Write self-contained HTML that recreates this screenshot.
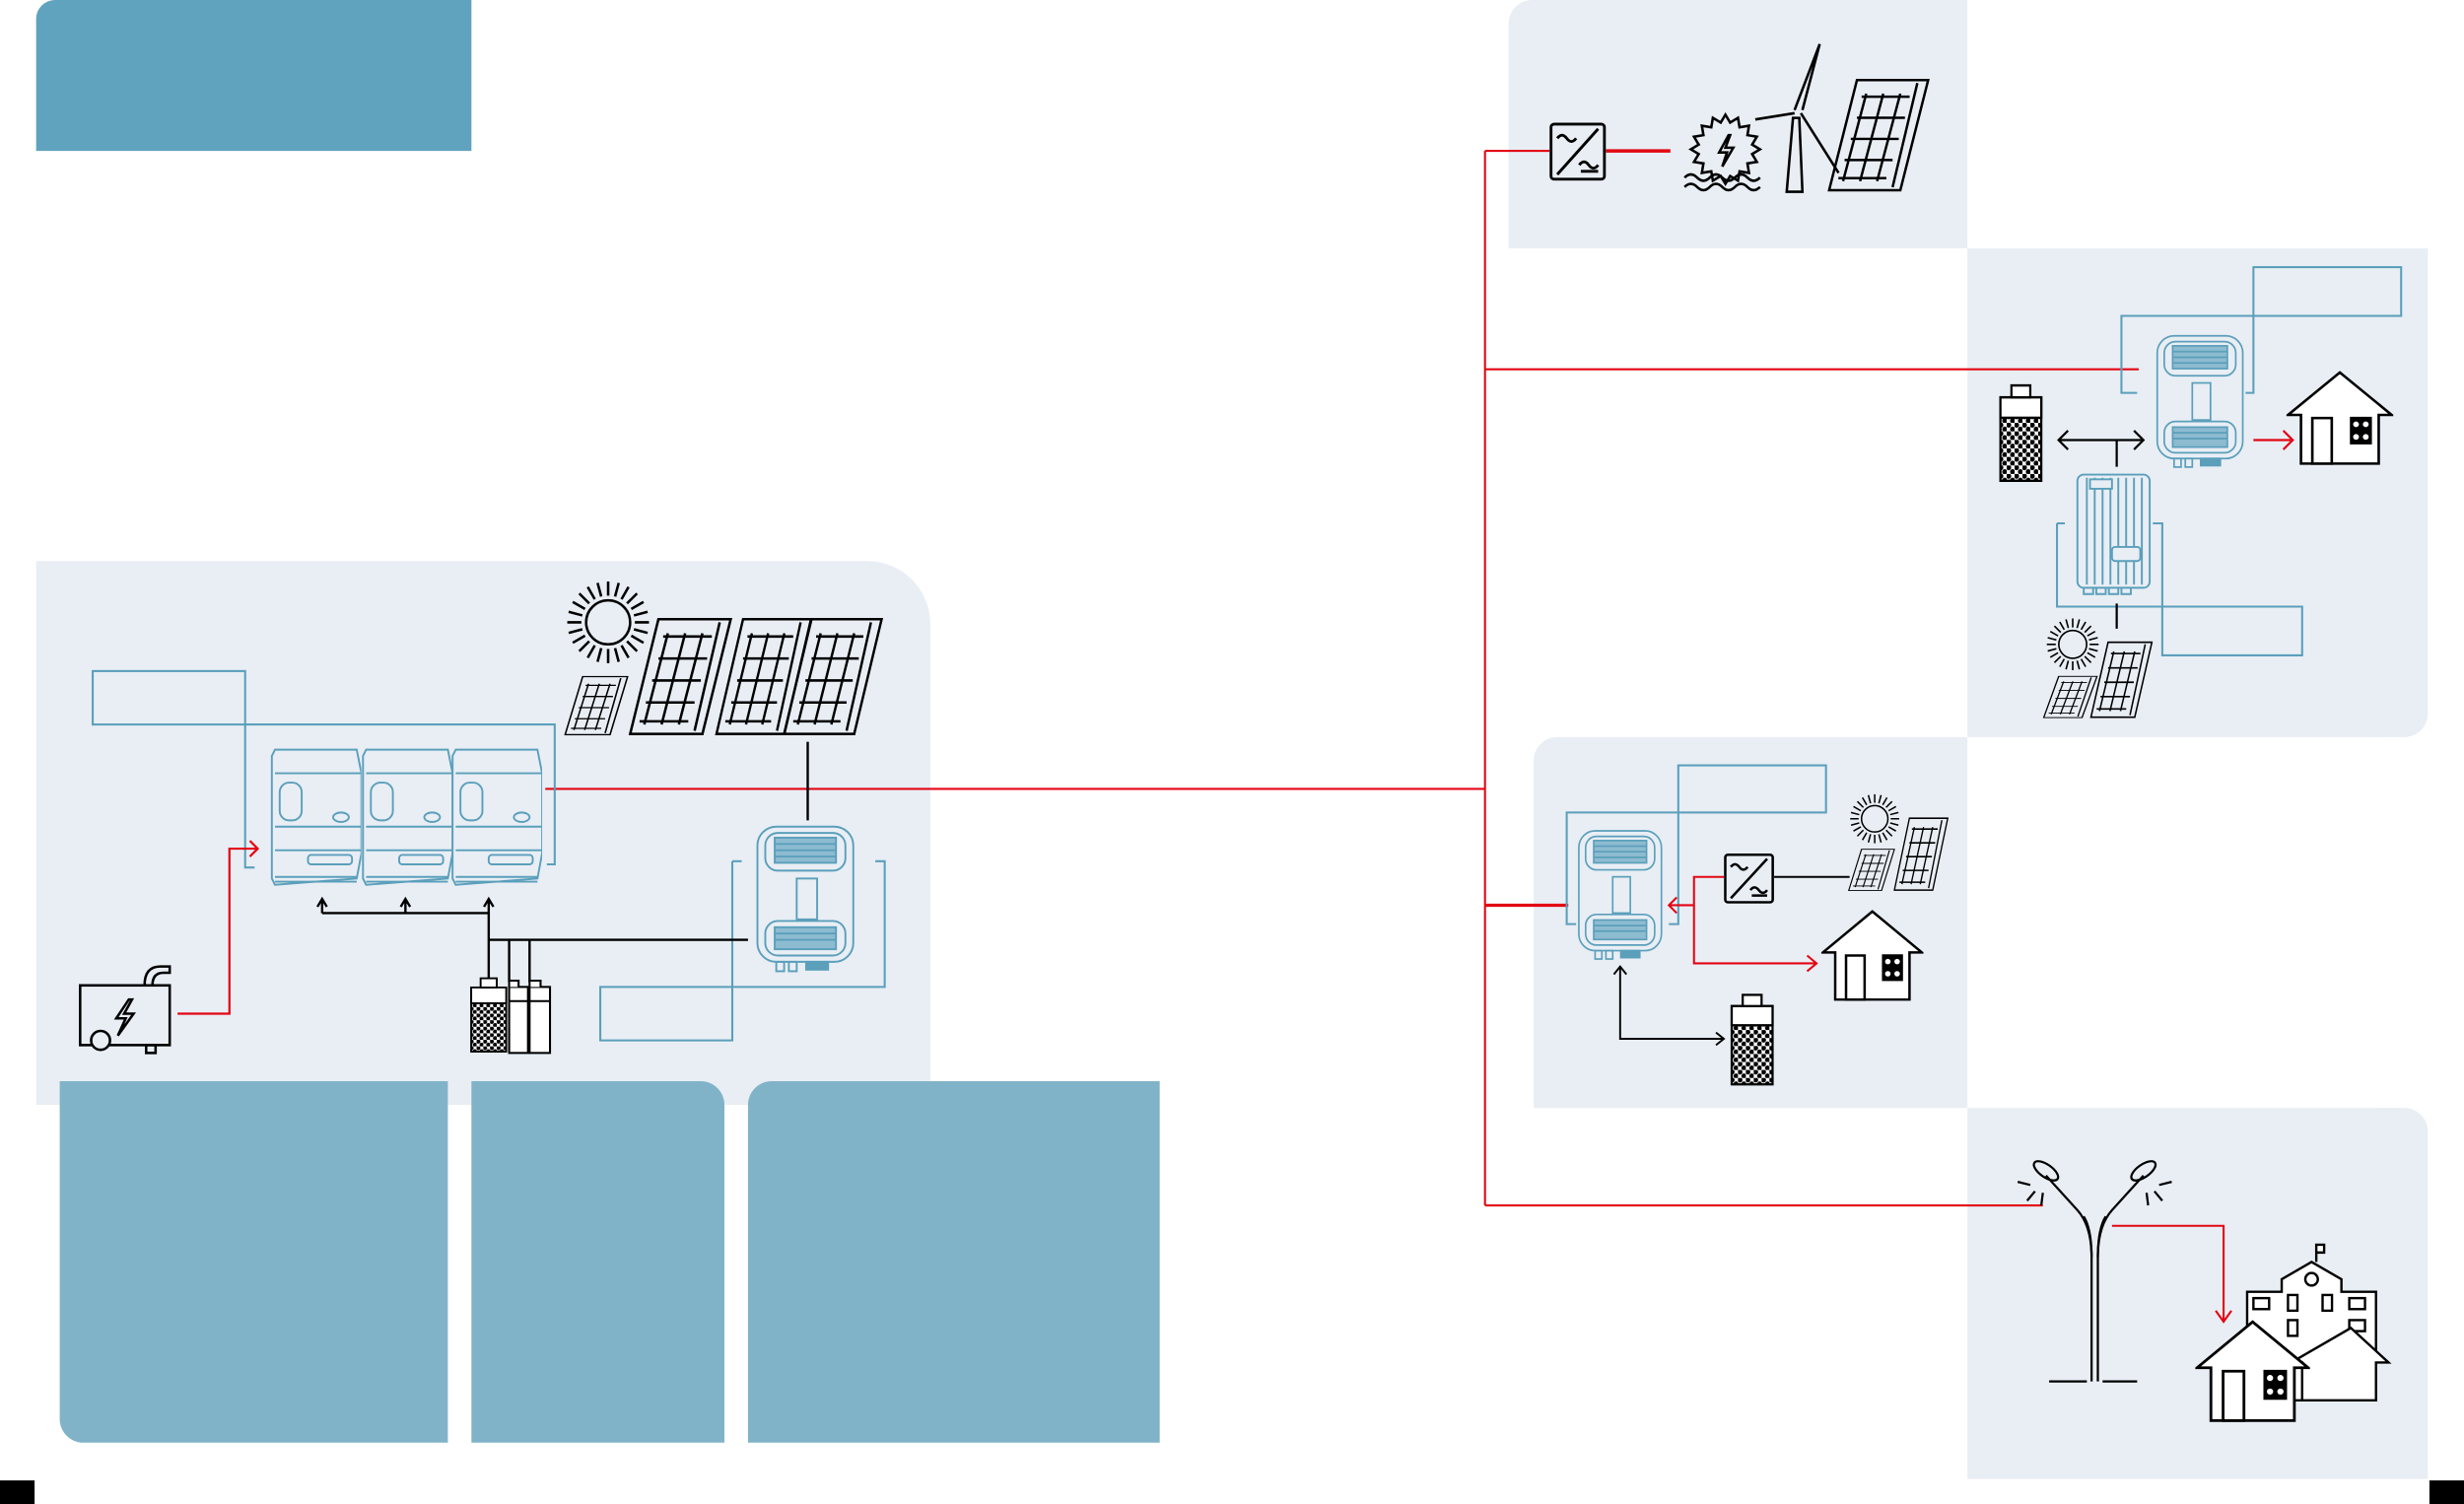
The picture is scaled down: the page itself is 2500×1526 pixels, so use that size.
<!DOCTYPE html>
<html><head><meta charset="utf-8"><style>
html,body{margin:0;padding:0;background:#fff;}
svg{display:block;}
</style></head><body>
<svg width="2500" height="1526" viewBox="0 0 1568 957" preserveAspectRatio="none" xmlns="http://www.w3.org/2000/svg">
<defs>
<pattern id="dots" width="5" height="5" patternUnits="userSpaceOnUse">
<rect width="5" height="5" fill="#fff"/>
<circle cx="1.25" cy="1.25" r="1.6" fill="#000"/><circle cx="3.75" cy="3.75" r="1.6" fill="#000"/>
</pattern>
<symbol id="xt" viewBox="0 0 65 97" preserveAspectRatio="none">
<g fill="none" stroke="#5b9fbb" stroke-width="1.2">
<rect x="2" y="3" width="61" height="86" rx="12"/>
<rect x="7" y="7" width="51" height="24" rx="8"/>
<rect x="13" y="10" width="39" height="16" fill="#8dbbd0"/>
<line x1="13" y1="14" x2="52" y2="14"/><line x1="13" y1="18" x2="52" y2="18"/><line x1="13" y1="22" x2="52" y2="22"/>
<rect x="27" y="36" width="13" height="26"/>
<rect x="7" y="63" width="51" height="22" rx="8"/>
<rect x="13" y="67" width="39" height="14" fill="#8dbbd0"/>
<line x1="13" y1="71" x2="52" y2="71"/><line x1="13" y1="75" x2="52" y2="75"/>
<rect x="14" y="89" width="5" height="6"/><rect x="22" y="89" width="5" height="6"/>
<rect x="33" y="89" width="14" height="5" fill="#5b9fbb"/>
</g>
</symbol>
<symbol id="mod" viewBox="0 0 58 91" preserveAspectRatio="none">
<g fill="none" stroke="#5b9fbb" stroke-width="1.2">
<path d="M3 2 L55 2 L58 17 L58 68 L55 84 L3 88 L1 84 L1 6 Z"/>
<line x1="3" y1="17" x2="58" y2="17"/>
<rect x="6" y="23" width="14" height="24" rx="6"/>
<ellipse cx="45" cy="45" rx="5" ry="3"/>
<line x1="3" y1="51" x2="58" y2="51"/>
<line x1="3" y1="66" x2="58" y2="66"/>
<rect x="24" y="69" width="28" height="6" rx="2"/>
<line x1="3" y1="83" x2="55" y2="83"/><line x1="3" y1="86" x2="55" y2="86"/>
</g>
</symbol>
<symbol id="pv" viewBox="0 0 66 75" preserveAspectRatio="none">
<g fill="none" stroke="#000" stroke-width="1.6">
<path d="M19 1 L65 1 L47 74 L1 74 Z"/>
<path d="M58 3 L42 72"/>
<path d="M25 10 L10 68 M36 10 L21 68 M47 10 L32 68"/>
<path d="M22 12 L53 12 M19 26 L50 26 M15 40 L46 40 M11 54 L42 54 M7 66 L38 66"/>
</g>
</symbol>
<symbol id="sun" viewBox="-30 -30 60 60">
<g fill="none" stroke="#000" stroke-width="1.6">
<circle r="14"/>
<g id="r4"><line y1="-17" y2="-26"/><line y1="17" y2="26"/><line x1="17" x2="26"/><line x1="-17" x2="-26"/></g>
<use href="#r4" transform="rotate(15)"/><use href="#r4" transform="rotate(30)"/><use href="#r4" transform="rotate(45)"/><use href="#r4" transform="rotate(60)"/><use href="#r4" transform="rotate(75)"/>
</g>
</symbol>
<symbol id="bat" viewBox="0 0 28 60" preserveAspectRatio="none">
<rect x="1" y="10" width="26" height="49" fill="url(#dots)" stroke="#000" stroke-width="1.4"/>
<rect x="1" y="10" width="26" height="12" fill="#fff" stroke="#000" stroke-width="1.4"/>
<rect x="8" y="3" width="12" height="7" fill="#fff" stroke="#000" stroke-width="1.4"/>
</symbol>
<symbol id="house" viewBox="0 0 66 60" preserveAspectRatio="none">
<g fill="#fff" stroke="#000" stroke-width="1.6">
<path d="M1 28 L33 1 L65 28 L57 28 L57 59 L9 59 L9 28 Z"/>
<rect x="16" y="30" width="12" height="29"/>
<rect x="40" y="30" width="12" height="16" fill="#000"/>
</g>
<g fill="#fff"><circle cx="43" cy="34" r="1.8"/><circle cx="49" cy="34" r="1.8"/><circle cx="43" cy="42" r="1.8"/><circle cx="49" cy="42" r="1.8"/></g>
</symbol>
<symbol id="conv" viewBox="0 0 36 37" preserveAspectRatio="none">
<g fill="none" stroke="#000" stroke-width="1.8">
<rect x="1" y="1" width="34" height="35" rx="2"/>
<line x1="5" y1="33" x2="31" y2="4"/>
<path d="M5 10 q3 -4 6 0 t6 0"/>
<path d="M19 27 q3 -4 6 0 t6 0"/>
<line x1="20" y1="31" x2="31" y2="31"/>
</g>
</symbol>
</defs>

<!-- backgrounds -->
<path d="M35 0 H300 V96 H23 V12 A12 12 0 0 1 35 0 Z" fill="#5fa3bf"/>
<path d="M23 357 H552 A40 40 0 0 1 592 397 V703 H23 Z" fill="#e8eef4"/>
<path d="M38 688 H285 V918 H53 A15 15 0 0 1 38 903 Z" fill="#81b3c8"/>
<path d="M300 688 H446 A15 15 0 0 1 461 703 V918 H300 Z" fill="#81b3c8"/>
<path d="M491 688 H738 V918 H476 V703 A15 15 0 0 1 491 688 Z" fill="#81b3c8"/>
<rect x="0" y="942" width="22" height="15" fill="#000"/>
<rect x="1546" y="942" width="22" height="15" fill="#000"/>
<path d="M975 0 H1252 V158 H960 V15 A15 15 0 0 1 975 0 Z" fill="#e8eef4"/>
<path d="M1252 158 H1545 V454 A15 15 0 0 1 1530 469 H1252 Z" fill="#e8eef4"/>
<path d="M991 469 H1252 V705 H976 V484 A15 15 0 0 1 991 469 Z" fill="#e8eef4"/>
<path d="M1252 705 H1530 A15 15 0 0 1 1545 720 V941 H1252 Z" fill="#e8eef4"/>

<!-- red main lines -->
<g stroke="#e30613" stroke-width="1.3" fill="none">
<line x1="945" y1="96" x2="945" y2="767"/>
<line x1="945" y1="96" x2="986" y2="96"/>
<line x1="945" y1="235" x2="1361" y2="235"/>
<line x1="347" y1="502" x2="945" y2="502"/>
<line x1="945" y1="767" x2="1300" y2="767"/>
<line x1="945" y1="576" x2="998" y2="576" stroke-width="2"/>
<line x1="1022" y1="96" x2="1063" y2="96" stroke-width="2.2"/>
</g>

<!-- top-right panel icons -->
<use href="#conv" x="986" y="78" width="36" height="37"/>
<g fill="none" stroke="#000" stroke-width="1.6">
<path d="M1098 73 l3 5 l5 -3 l1 6 l6 -1 l-1 6 l6 1 l-3 5 l5 3 l-5 3 l3 5 l-6 1 l1 6 l-6 -1 l-1 6 l-5 -3 l-3 5 l-3 -5 l-5 3 l-1 -6 l-6 1 l1 -6 l-6 -1 l3 -5 l-5 -3 l5 -3 l-3 -5 l6 -1 l-1 -6 l6 1 l1 -6 l5 3 Z"/>
<path d="M1100 86 l-6 11 h5 l-3 9 l7 -12 h-5 l3 -8 Z"/>
<path d="M1072 113 q4 -4 8 0 t8 0 t8 0 t8 0 t8 0 t8 0 M1072 119 q4 -4 8 0 t8 0 t8 0 t8 0 t8 0 t8 0"/>
<path d="M1137 122 L1141 75 L1145 75 L1147 122 Z"/>
<path d="M1142 70 L1158 28 L1147 70 M1142 72 L1117 76 M1146 72 L1170 110"/>
</g>
<use href="#pv" x="1163" y="50" width="65" height="72"/>

<!-- LEFT PANEL -->
<g fill="none" stroke="#5b9fbb" stroke-width="1.3">
<rect x="59" y="427" width="97" height="34"/>
<path d="M156 461 H353 V550 H348"/>
<path d="M156 461 V552 H162"/>
<path d="M466 548 V662 H382 V628 H563 V548 H557"/>
<path d="M466 548 H472"/>
</g>
<use href="#mod" x="172" y="475" width="58" height="91"/>
<use href="#mod" x="230" y="475" width="58" height="91"/>
<use href="#mod" x="287" y="475" width="58" height="91"/>
<use href="#xt" x="480" y="523" width="65" height="97"/>
<!-- generator -->
<g fill="none" stroke="#000" stroke-width="1.6">
<rect x="51" y="627" width="57" height="38"/>
<circle cx="64" cy="662" r="6" fill="#e8eef4"/>
<rect x="93" y="665" width="6" height="5"/>
<path d="M92 627 q0 -12 10 -12 h6 v4 h-4 q-7 0 -7 8"/>
<path d="M82 636 l-8 12 h6 l-5 11 l10 -14 h-6 l5 -9 Z"/>
</g>
<g stroke="#e30613" stroke-width="1.4" fill="none">
<path d="M113 645 H146 V540 H163"/>
<path d="M159 535 L164 540 L159 545"/>
</g>
<!-- black connections -->
<g stroke="#000" stroke-width="1.5" fill="none">
<path d="M311 624 V573 M205 581 H311 M205 581 V573 M258 581 V573"/>
<path d="M202 577 L205 572 L208 577 M255 577 L258 572 L261 577 M308 577 L311 572 L314 577"/>
<path d="M311 598 H476 M324 598 V625 M337 598 V625"/>
<line x1="514" y1="472" x2="514" y2="522"/>
</g>
<use href="#bat" x="299" y="620" width="24" height="50"/>
<g fill="#fff" stroke="#000" stroke-width="1.3">
<rect x="324" y="628" width="12" height="42"/><rect x="337" y="628" width="13" height="42"/>
<path d="M324 628 V624 H330 V628 M337 628 V624 H344 V628"/>
<line x1="324" y1="637" x2="336" y2="637"/><line x1="337" y1="637" x2="350" y2="637"/>
</g>
<use href="#pv" x="359" y="430" width="41" height="38"/>
<use href="#sun" x="357" y="366" width="60" height="60"/>
<use href="#pv" x="400" y="393" width="66" height="75"/>
<use href="#pv" x="455" y="393" width="62" height="75"/>
<use href="#pv" x="498" y="393" width="64" height="75"/>

<!-- PANEL 2 -->
<g fill="none" stroke="#5b9fbb" stroke-width="1.3">
<rect x="1434" y="170" width="94" height="31"/>
<path d="M1434 201 V250 H1429 M1434 201 H1350 V250 H1360"/>
<path d="M1309 333 V386 H1465 V417 H1376 V333 H1370 M1309 333 H1314"/>
</g>
<use href="#xt" x="1371" y="211" width="58" height="88"/>
<g fill="none" stroke="#5b9fbb" stroke-width="1.2">
<rect x="1322" y="302" width="46" height="72" rx="4"/>
<path d="M1328 304 V372 M1333 304 V372 M1338 304 V372 M1343 304 V372 M1348 304 V372 M1353 304 V372 M1358 304 V372 M1363 304 V372"/>
<rect x="1330" y="305" width="14" height="6" fill="#e8eef4"/>
<rect x="1344" y="348" width="18" height="9" rx="2" fill="#e8eef4"/>
<path d="M1326 374 v4 h6 v-4 M1334 374 v4 h6 v-4 M1342 374 v4 h6 v-4 M1350 374 v4 h6 v-4"/>
</g>
<use href="#bat" x="1272" y="242" width="28" height="65"/>
<g stroke="#000" stroke-width="1.4" fill="none">
<path d="M1310 280 H1364 M1316 274 L1310 280 L1316 286 M1358 274 L1364 280 L1358 286 M1347 280 V297 M1347 384 V400"/>
</g>
<g stroke="#e30613" stroke-width="1.4" fill="none"><path d="M1434 280 H1458 M1453 274 L1459 280 L1453 286"/></g>
<use href="#house" x="1455" y="236" width="68" height="60"/>
<use href="#pv" x="1300" y="430" width="35" height="27"/>
<use href="#sun" x="1300" y="391" width="38" height="38"/>
<use href="#pv" x="1330" y="408" width="40" height="49"/>

<!-- PANEL 3 -->
<g fill="none" stroke="#5b9fbb" stroke-width="1.3">
<rect x="1068" y="487" width="94" height="30"/>
<path d="M1068 517 H997 V588 H1003 M1068 517 V588 H1062"/>
</g>
<use href="#xt" x="1003" y="526" width="56" height="86"/>
<use href="#conv" x="1097" y="543" width="32" height="32"/>
<g stroke="#e30613" stroke-width="1.3" fill="none">
<path d="M1097 558 H1078 V613 H1155 M1150 608 L1156 613 L1150 618"/>
<path d="M1078 576 H1062 M1067 571 L1062 576 L1067 581"/>
</g>
<g stroke="#000" stroke-width="1.2" fill="none">
<path d="M1129 558 H1177"/>
<path d="M1031 615 V661 H1097 M1027 620 L1031 615 L1035 620 M1092 657 L1097 661 L1092 665"/>
</g>
<use href="#pv" x="1176" y="540" width="30" height="27"/>
<use href="#sun" x="1175" y="503" width="36" height="36"/>
<use href="#pv" x="1205" y="520" width="35" height="47"/>
<use href="#house" x="1159" y="579" width="65" height="58"/>
<use href="#bat" x="1101" y="630" width="28" height="61"/>

<!-- PANEL 4 -->
<g fill="none" stroke="#000" stroke-width="1.4">
<path d="M1331 879 V800 Q1331 780 1322 770 L1302 748 M1335 879 V800 Q1335 780 1344 770 L1364 748"/>
<path d="M1331 800 Q1331 782 1326 774 M1335 800 Q1335 782 1340 774"/>
<ellipse cx="1302" cy="745" rx="9" ry="4" transform="rotate(35 1302 745)"/>
<ellipse cx="1364" cy="745" rx="9" ry="4" transform="rotate(-35 1364 745)"/>
<path d="M1284 752 l8 2 M1290 764 l5 -6 M1299 767 l1 -8 M1382 752 l-8 2 M1376 764 l-5 -6 M1367 767 l-1 -8"/>
<path d="M1304 879 H1328 M1338 879 H1360"/>
</g>
<g stroke="#e30613" stroke-width="1.3" fill="none">
<path d="M1344 780 H1415 V840 M1410 834 L1415 841 L1420 834"/>
</g>
<g fill="#fff" stroke="#000" stroke-width="1.5">
<path d="M1430 891 V822 H1452 V814 L1471 803 L1490 814 V822 H1512 V891 Z"/>
<path d="M1474 803 V792 h5 v5 h-5"/>
<circle cx="1471" cy="814" r="4"/>
<rect x="1434" y="826" width="10" height="7"/><rect x="1456" y="824" width="6" height="10"/><rect x="1478" y="824" width="6" height="10"/><rect x="1495" y="826" width="10" height="7"/>
<rect x="1456" y="840" width="6" height="10"/><rect x="1495" y="840" width="10" height="7"/>
<path d="M1465 891 V867 H1458 L1496 845 L1520 867 H1512 V891 Z"/>
</g>
<use href="#house" x="1397" y="840" width="73" height="65"/>
</svg>
</body></html>
